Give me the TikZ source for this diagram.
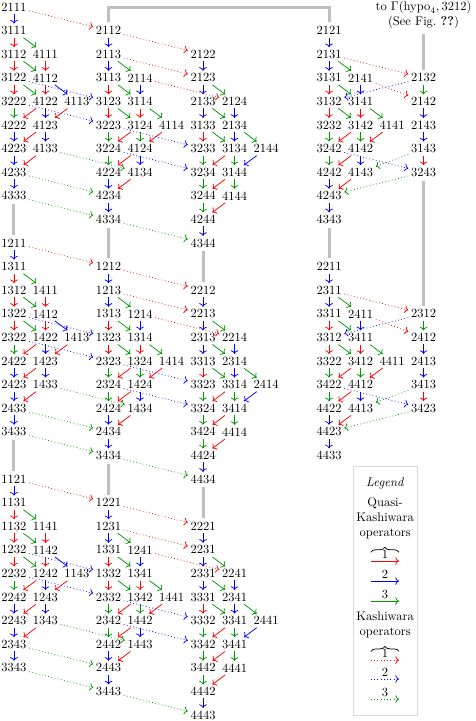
\documentclass[tikz,border=0pt]{standalone}
\usetikzlibrary{positioning, decorations.pathreplacing, arrows.meta}

\colorlet{opone}{red}
\colorlet{optwo}{blue}
\colorlet{opthree}{green!60!black}

\tikzset{
  word/.style={inner sep=2pt},
  op/.style={->, semithick},
  kop/.style={->, dotted, semithick},
  bar/.style={line width=2.4pt, gray!50, shorten <=1pt, shorten >=1pt},
}

% one column of words: name, x, top row, words
\newcommand{\crystalcol}[4]{%
  \foreach \w [count=\k from 0] in {#4} {
    \pgfmathtruncatemacro{\ri}{{0,1,2,2,3,3,4,4,4,5,5,6,6,7,8}[\k]}
    \pgfmathtruncatemacro{\si}{{0,0,0,1,0,1,0,1,2,0,1,0,1,0,0}[\k]}
    \node[word] (#1-\ri-\si) at ({#2+\si},{#3+\ri}) {\w};
  }%
}
% single straight column: name, x, top row, words
\newcommand{\crystalstem}[4]{%
  \foreach \w [count=\k from 0] in {#4}
    \node[word] (#1-\k-0) at (#2,{#3+\k}) {\w};
}

% quasi-Kashiwara arrows inside a column (row/sub -> row/sub / colour)
\newcommand{\edgesA}{0/0/1/0/optwo, 1/0/2/0/opone, 1/0/2/1/opthree,
  2/0/3/0/opone, 2/0/3/1/opthree, 2/1/3/1/opone,
  3/0/4/0/opone, 3/0/4/1/opthree, 3/1/4/1/opone, 3/1/4/2/optwo,
  4/0/5/0/opthree, 4/1/5/0/opone, 4/1/5/1/optwo, 4/2/5/1/opone,
  5/0/6/0/optwo, 5/1/6/0/opone, 5/1/6/1/optwo,
  6/0/7/0/optwo, 6/1/7/0/opone, 7/0/8/0/optwo}
\newcommand{\edgesB}{0/0/1/0/optwo, 1/0/2/0/optwo, 1/0/2/1/opthree,
  2/0/3/0/opone, 2/0/3/1/opthree, 2/1/3/1/optwo,
  3/0/4/0/opone, 3/0/4/1/opthree, 3/1/4/1/opone, 3/1/4/2/opthree,
  4/0/5/0/opthree, 4/1/5/0/opone, 4/1/5/1/opthree, 4/2/5/1/opone,
  5/0/6/0/opthree, 5/1/6/0/opone, 5/1/6/1/optwo,
  6/0/7/0/optwo, 6/1/7/0/opone, 7/0/8/0/optwo}
\newcommand{\edgesC}{0/0/1/0/optwo, 1/0/2/0/optwo, 1/0/2/1/opthree,
  2/0/3/0/optwo, 2/0/3/1/opthree, 2/1/3/1/optwo,
  3/0/4/0/opone, 3/0/4/1/opthree, 3/1/4/1/optwo, 3/1/4/2/opthree,
  4/0/5/0/opthree, 4/1/5/0/opone, 4/1/5/1/opthree, 4/2/5/1/optwo,
  5/0/6/0/opthree, 5/1/6/0/opone, 5/1/6/1/opthree,
  6/0/7/0/opthree, 6/1/7/0/opone, 7/0/8/0/optwo}
% Kashiwara arrows between columns
\newcommand{\crossAB}{0/0/opone, 3/0/optwo, 4/0/optwo, 6/1/opthree, 7/0/opthree, 8/0/opthree}
\newcommand{\crossBC}{0/0/opone, 1/0/opone, 2/1/opone, 4/0/optwo, 5/0/optwo, 8/0/opthree}

\begin{document}
\begin{tikzpicture}[x=25.2pt, y=-18.88pt]
\useasboundingbox (-0.444,-0.297) rectangle (14.635,30.25);

% Top block
\crystalcol{A1}{0}{0}{2111,3111,3112,4111,3122,4112,3222,4122,4113,4222,4123,4223,4133,4233,4333}
\crystalcol{B1}{3}{1}{2112,2113,3113,2114,3123,3114,3223,3124,4114,3224,4124,4224,4134,4234,4334}
\crystalcol{C1}{6}{2}{2122,2123,2133,2124,3133,2134,3233,3134,2144,3234,3144,3244,4144,4244,4344}
\crystalcol{D1}{10}{1}{2121,2131,3131,2141,3132,3141,3232,3142,4141,3242,4142,4242,4143,4243,4343}
\crystalstem{E1}{13}{3}{2132,2142,2143,3143,3243}
\node[align=center] (note) at (13,0.34) {to $\Gamma(\mathrm{hypo}_4, 3212)$\\(See Fig.~\textbf{??})};

% Middle block
\crystalcol{A2}{0}{10}{1211,1311,1312,1411,1322,1412,2322,1422,1413,2422,1423,2423,1433,2433,3433}
\crystalcol{B2}{3}{11}{1212,1213,1313,1214,1323,1314,2323,1324,1414,2324,1424,2424,1434,2434,3434}
\crystalcol{C2}{6}{12}{2212,2213,2313,2214,3313,2314,3323,3314,2414,3324,3414,3424,4414,4424,4434}
\crystalcol{D2}{10}{11}{2211,2311,3311,2411,3312,3411,3322,3412,4411,3422,4412,4422,4413,4423,4433}
\crystalstem{E2}{13}{13}{2312,2412,2413,3413,3423}

% Bottom block
\crystalcol{A3}{0}{20}{1121,1131,1132,1141,1232,1142,2232,1242,1143,2242,1243,2243,1343,2343,3343}
\crystalcol{B3}{3}{21}{1221,1231,1331,1241,1332,1341,2332,1342,1441,2342,1442,2442,1443,2443,3443}
\crystalcol{C3}{6}{22}{2221,2231,2331,2241,3331,2341,3332,3341,2441,3342,3441,3442,4441,4442,4443}

% Gray links between blocks
\draw[bar] (B1-0-0.north) |- (10,0) -- (D1-0-0.north);
\foreach \cn in {A,B,C,D}
  \draw[bar] (\cn1-8-0.south) -- (\cn2-0-0.north);
\foreach \cn in {A,B,C}
  \draw[bar] (\cn2-8-0.south) -- (\cn3-0-0.north);
\draw[bar] (note.south) -- (E1-0-0.north);
\draw[bar] (E1-4-0.south) -- (E2-0-0.north);

% Quasi-Kashiwara operators
\foreach \g in {A1,A2,A3}
  \foreach \ra/\sa/\rb/\sb/\cl in \edgesA
    \draw[op, color=\cl] (\g-\ra-\sa) -- (\g-\rb-\sb);
\foreach \g in {B1,B2,B3,D1,D2}
  \foreach \ra/\sa/\rb/\sb/\cl in \edgesB
    \draw[op, color=\cl] (\g-\ra-\sa) -- (\g-\rb-\sb);
\foreach \g in {C1,C2,C3}
  \foreach \ra/\sa/\rb/\sb/\cl in \edgesC
    \draw[op, color=\cl] (\g-\ra-\sa) -- (\g-\rb-\sb);
\foreach \g in {E1,E2} {
  \draw[op, opthree] (\g-0-0) -- (\g-1-0);
  \draw[op, optwo] (\g-1-0) -- (\g-2-0);
  \draw[op, optwo] (\g-2-0) -- (\g-3-0);
  \draw[op, opone] (\g-3-0) -- (\g-4-0);
}

% Kashiwara operators
\foreach \b in {1,2,3} {
  \foreach \ra/\sa/\cl in \crossAB
    \draw[kop, color=\cl] (A\b-\ra-\sa) -- (B\b-\ra-\sa);
  \foreach \ra/\sa/\cl in \crossBC
    \draw[kop, color=\cl] (B\b-\ra-\sa) -- (C\b-\ra-\sa);
}
\foreach \b in {1,2} {
  \draw[kop, opone] (D\b-1-0) -- (E\b-0-0);
  \draw[kop, opone] (D\b-2-1) -- (E\b-1-0);
  \draw[kop, optwo] (E\b-0-0) -- (D\b-3-0);
  \draw[kop, optwo] (D\b-5-0) -- (E\b-4-0);
  \draw[kop, opthree] (E\b-3-0) -- (D\b-6-1);
  \draw[kop, opthree] (E\b-4-0) -- (D\b-7-0);
}

% Legend
\draw[gray!30, semithick] (10.76,19.45) rectangle (12.79,30.0);
\node (legtitle) at (11.78,20.17) {\textit{Legend}};
\node[align=center] (quasi) at (11.78,21.65) {Quasi-\\Kashiwara\\operators};
\draw[decorate, decoration={brace, amplitude=4pt}, semithick] (11.33,23.1) -- (12.22,23.1);
\draw[op, opone] (11.33,23.47) -- (12.22,23.47) node[midway, above, inner sep=1.5pt, text=black] (q1) {1};
\draw[op, optwo] (11.33,24.32) -- (12.22,24.32) node[midway, above, inner sep=1.5pt, text=black] (q2) {2};
\draw[op, opthree] (11.33,25.17) -- (12.22,25.17) node[midway, above, inner sep=1.5pt, text=black] (q3) {3};
\node[align=center] (kash) at (11.78,26.19) {Kashiwara\\operators};
\draw[decorate, decoration={brace, amplitude=4pt}, semithick] (11.33,27.3) -- (12.22,27.3);
\draw[kop, opone] (11.33,27.67) -- (12.22,27.67) node[midway, above, inner sep=1.5pt, text=black] (k1) {1};
\draw[kop, optwo] (11.33,28.47) -- (12.22,28.47) node[midway, above, inner sep=1.5pt, text=black] (k2) {2};
\draw[kop, opthree] (11.33,29.32) -- (12.22,29.32) node[midway, above, inner sep=1.5pt, text=black] (k3) {3};

\end{tikzpicture}
\end{document}
